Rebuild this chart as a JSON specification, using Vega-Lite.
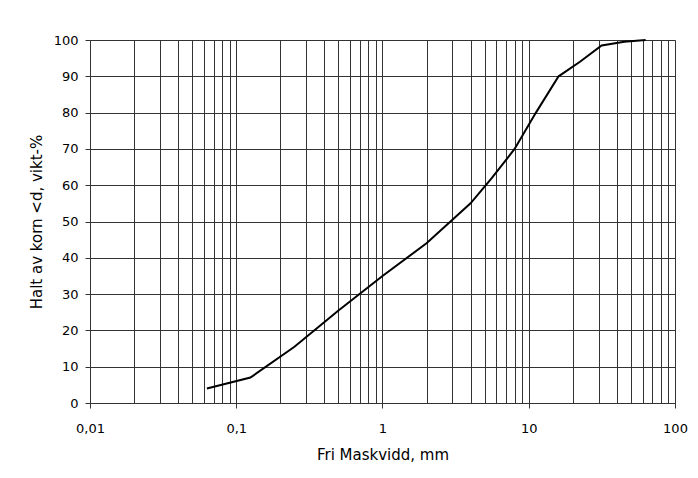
{
  "$schema": "https://vega.github.io/schema/vega-lite/v6.json",
  "width": 585,
  "height": 363,
  "autosize": "none",
  "padding": {"left": 90, "top": 40, "right": 23, "bottom": 75},
  "background": "white",
  "config": {"view": {"stroke": "#9a9a9a", "strokeWidth": 1}, "font": "DejaVu Sans"},
  "data": {"values": [
    {"d": 0.063, "p": 4},
    {"d": 0.125, "p": 7},
    {"d": 0.25, "p": 15.5},
    {"d": 0.5, "p": 25.5},
    {"d": 1, "p": 35},
    {"d": 2, "p": 44},
    {"d": 4, "p": 55},
    {"d": 5.6, "p": 62},
    {"d": 8, "p": 70},
    {"d": 11.2, "p": 80},
    {"d": 16, "p": 90},
    {"d": 22.4, "p": 94},
    {"d": 31.5, "p": 98.5},
    {"d": 45, "p": 99.5},
    {"d": 63, "p": 100}
  ]},
  "mark": {"type": "line", "color": "black", "strokeWidth": 2},
  "encoding": {
    "x": {
      "field": "d", "type": "quantitative",
      "scale": {"type": "log", "domain": [0.01, 100]},
      "axis": {
        "title": "Fri Maskvidd, mm",
        "values": [0.01,0.02,0.03,0.04,0.05,0.06,0.07,0.08,0.09,0.1,0.2,0.3,0.4,0.5,0.6,0.7,0.8,0.9,1,2,3,4,5,6,7,8,9,10,20,30,40,50,60,70,80,90,100],
        "labelExpr": "datum.value == 0.01 ? '0,01' : datum.value == 0.1 ? '0,1' : datum.value == 1 ? '1' : datum.value == 10 ? '10' : datum.value == 100 ? '100' : ''",
        "labelOverlap": false,
        "labelFlush": false,
        "labelBound": false,
        "labelFontSize": 13,
        "labelColor": "black",
        "labelPadding": 14,
        "tickSize": 5,
        "tickColor": "#333333",
        "tickOpacity": {"condition": {"test": "datum.value == 0.01 || datum.value == 0.1 || datum.value == 1 || datum.value == 10 || datum.value == 100", "value": 1}, "value": 0},
        "grid": true,
        "gridColor": "#333333",
        "gridOpacity": 1,
        "gridWidth": 1,
        "domainColor": "#333333",
        "titleFontSize": 15,
        "titleFontWeight": "normal",
        "titleColor": "black",
        "titlePadding": 12
      }
    },
    "y": {
      "field": "p", "type": "quantitative",
      "scale": {"domain": [0, 100]},
      "axis": {
        "title": "Halt av korn <d, vikt-%",
        "values": [0,10,20,30,40,50,60,70,80,90,100],
        "labelFontSize": 13,
        "labelColor": "black",
        "labelPadding": 7,
        "tickSize": 5,
        "tickColor": "#333333",
        "grid": true,
        "gridColor": "#333333",
        "gridOpacity": 1,
        "gridWidth": 1,
        "domainColor": "#333333",
        "titleFontSize": 15,
        "titleFontWeight": "normal",
        "titleColor": "black",
        "titlePadding": 9
      }
    }
  }
}
